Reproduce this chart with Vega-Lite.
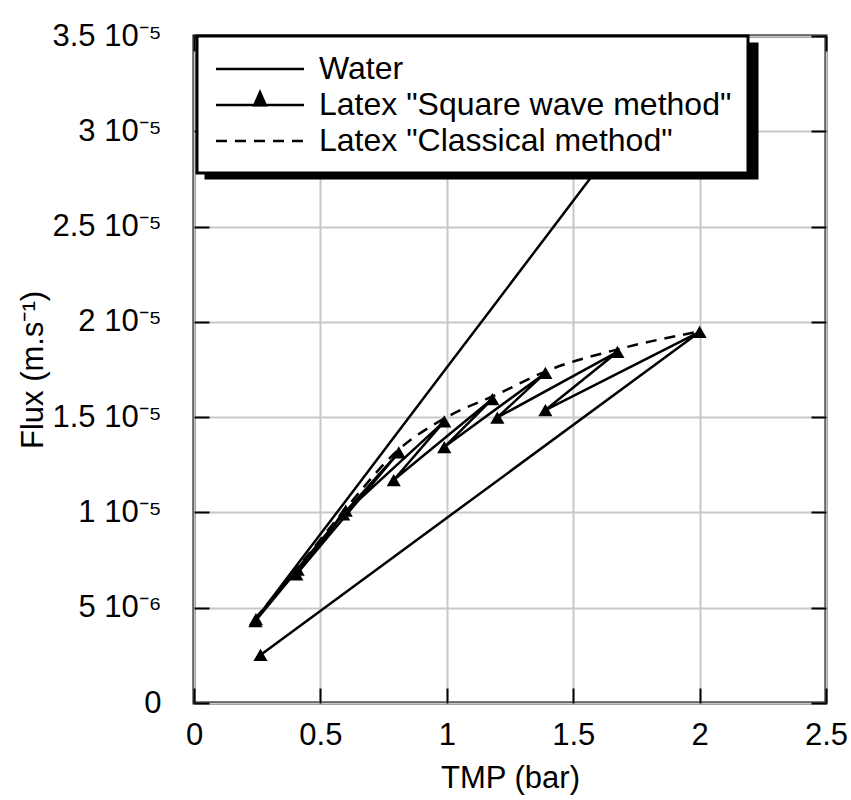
{
  "$schema": "https://vega.github.io/schema/vega-lite/v6.json",
  "width": 632,
  "height": 667,
  "autosize": {"type": "none"},
  "padding": {"left": 194, "top": 36, "right": 25, "bottom": 97},
  "background": "white",
  "config": {
    "view": {"stroke": "black", "strokeWidth": 3},
    "font": "Liberation Sans",
    "axis": {"labelFont": "Liberation Sans", "titleFont": "Liberation Sans", "labelColor": "black", "titleColor": "black", "titleFontWeight": "normal"},
    "legend": {
      "strokeWidth": 3,
      "padding": 16,
      "symbolSize": 961,
      "symbolStrokeWidth": 2.5,
      "symbolOffset": 30,
      "labelOffset": 42,
      "labelFont": "Liberation Sans",
      "labelFontSize": 32,
      "labelLimit": 0,
      "rowPadding": 3
    }
  },
  "data": {
    "values": [
      {"series": "Water", "order": 1, "x": 0.24, "y": 0.0000043},
      {"series": "Water", "order": 2, "x": 0.41, "y": 0.0000073},
      {"series": "Water", "order": 3, "x": 0.6, "y": 0.0000106},
      {"series": "Water", "order": 4, "x": 0.8, "y": 0.0000141},
      {"series": "Water", "order": 5, "x": 1.0, "y": 0.0000176},
      {"series": "Water", "order": 6, "x": 1.2, "y": 0.0000211},
      {"series": "Water", "order": 7, "x": 1.4, "y": 0.0000246},
      {"series": "Water", "order": 8, "x": 1.68, "y": 0.0000295},
      {"series": "Water", "order": 9, "x": 2.0, "y": 0.0000349},
      {"series": "Latex \"Square wave method\"", "order": 1, "x": 0.243, "y": 0.0000043},
      {"series": "Latex \"Square wave method\"", "order": 2, "x": 0.41, "y": 0.0000070},
      {"series": "Latex \"Square wave method\"", "order": 3, "x": 0.245, "y": 0.0000044},
      {"series": "Latex \"Square wave method\"", "order": 4, "x": 0.6, "y": 0.0000101},
      {"series": "Latex \"Square wave method\"", "order": 5, "x": 0.405, "y": 0.00000675},
      {"series": "Latex \"Square wave method\"", "order": 6, "x": 0.81, "y": 0.00001315},
      {"series": "Latex \"Square wave method\"", "order": 7, "x": 0.59, "y": 0.0000099},
      {"series": "Latex \"Square wave method\"", "order": 8, "x": 0.99, "y": 0.00001478},
      {"series": "Latex \"Square wave method\"", "order": 9, "x": 0.79, "y": 0.0000117},
      {"series": "Latex \"Square wave method\"", "order": 10, "x": 1.18, "y": 0.00001595},
      {"series": "Latex \"Square wave method\"", "order": 11, "x": 0.99, "y": 0.00001343},
      {"series": "Latex \"Square wave method\"", "order": 12, "x": 1.39, "y": 0.00001732},
      {"series": "Latex \"Square wave method\"", "order": 13, "x": 1.2, "y": 0.00001498},
      {"series": "Latex \"Square wave method\"", "order": 14, "x": 1.675, "y": 0.00001842},
      {"series": "Latex \"Square wave method\"", "order": 15, "x": 1.39, "y": 0.00001537},
      {"series": "Latex \"Square wave method\"", "order": 16, "x": 2.0, "y": 0.00001947},
      {"series": "Latex \"Square wave method\"", "order": 17, "x": 0.263, "y": 0.00000252},
      {"series": "Latex \"Classical method\"", "order": 1, "x": 0.24, "y": 0.0000044},
      {"series": "Latex \"Classical method\"", "order": 2, "x": 0.41, "y": 0.0000071},
      {"series": "Latex \"Classical method\"", "order": 3, "x": 0.6, "y": 0.0000102},
      {"series": "Latex \"Classical method\"", "order": 4, "x": 0.81, "y": 0.0000133},
      {"series": "Latex \"Classical method\"", "order": 5, "x": 1.0, "y": 0.000015},
      {"series": "Latex \"Classical method\"", "order": 6, "x": 1.2, "y": 0.0000162},
      {"series": "Latex \"Classical method\"", "order": 7, "x": 1.4, "y": 0.00001745},
      {"series": "Latex \"Classical method\"", "order": 8, "x": 1.68, "y": 0.00001857},
      {"series": "Latex \"Classical method\"", "order": 9, "x": 2.0, "y": 0.0000195}
    ]
  },
  "resolve": {"axis": {"x": "independent", "y": "independent"}},
  "layer": [
    {
      "transform": [{"filter": "datum.series == 'Water'"}],
      "mark": {"type": "line", "color": "black", "strokeWidth": 2.5},
      "encoding": {
        "x": {"field": "x", "type": "quantitative", "scale": {"domain": [0, 2.5], "nice": false, "zero": false},
          "axis": {"orient": "bottom", "values": [0, 0.5, 1, 1.5, 2, 2.5], "format": "~g", "grid": true, "gridColor": "#c8c8c8", "gridWidth": 2, "domain": false, "ticks": false, "labelFontSize": 31, "labelPadding": 17, "labelFlush": false, "labelOverlap": false, "title": "TMP (bar)", "titleFontSize": 31, "titlePadding": 13}},
        "y": {"field": "y", "type": "quantitative", "scale": {"domain": [0, 0.000035], "nice": false, "zero": false},
          "axis": {"orient": "left", "values": [0, 0.000005, 0.00001, 0.000015, 0.00002, 0.000025, 0.00003, 0.000035], "grid": true, "gridColor": "#c8c8c8", "gridWidth": 2, "domain": false, "ticks": false, "labelFontSize": 31, "labelPadding": 33, "labelFlush": false, "labelOverlap": false, "labelExpr": "datum.value == 0 ? '0' : round(datum.value*1e6) == 5 ? '5 10⁻⁶' : (round(datum.value*1e6)/10) + ' 10⁻⁵'", "title": "Flux (m.s⁻¹)", "titleFontSize": 31, "titlePadding": 2}},
        "order": {"field": "order", "type": "quantitative"}
      }
    },
    {
      "transform": [{"filter": "datum.series == 'Latex \"Square wave method\"'"}],
      "mark": {"type": "line", "color": "black", "strokeWidth": 2.5},
      "encoding": {
        "x": {"field": "x", "type": "quantitative", "axis": {"orient": "top", "values": [0, 0.5, 1, 1.5, 2, 2.5], "grid": false, "domain": false, "labels": false, "ticks": true, "tickSize": -15, "tickWidth": 2, "tickColor": "black", "title": null}},
        "y": {"field": "y", "type": "quantitative", "axis": {"orient": "right", "values": [0, 0.000005, 0.00001, 0.000015, 0.00002, 0.000025, 0.00003, 0.000035], "grid": false, "domain": false, "labels": false, "ticks": true, "tickSize": -15, "tickWidth": 2, "tickColor": "black", "title": null}},
        "order": {"field": "order", "type": "quantitative"}
      }
    },
    {
      "transform": [{"filter": "datum.series == 'Latex \"Square wave method\"'"}],
      "mark": {"type": "point", "shape": "triangle-up", "filled": true, "color": "black", "size": 200, "opacity": 1},
      "encoding": {
        "x": {"field": "x", "type": "quantitative", "axis": {"orient": "bottom", "values": [0, 0.5, 1, 1.5, 2, 2.5], "grid": false, "domain": false, "labels": false, "ticks": true, "tickSize": -15, "tickWidth": 2, "tickColor": "black", "title": null}},
        "y": {"field": "y", "type": "quantitative", "axis": {"orient": "left", "values": [0, 0.000005, 0.00001, 0.000015, 0.00002, 0.000025, 0.00003, 0.000035], "grid": false, "domain": false, "labels": false, "ticks": true, "tickSize": -15, "tickWidth": 2, "tickColor": "black", "title": null}}
      }
    },
    {
      "transform": [{"filter": "datum.series == 'Latex \"Classical method\"'"}],
      "mark": {"type": "line", "color": "black", "strokeWidth": 2.5, "interpolate": "monotone"},
      "encoding": {
        "x": {"field": "x", "type": "quantitative", "axis": null},
        "y": {"field": "y", "type": "quantitative", "axis": null},
        "order": {"field": "order", "type": "quantitative"},
        "strokeDash": {"field": "series", "type": "nominal",
          "scale": {"domain": ["Water", "Latex \"Square wave method\"", "Latex \"Classical method\""], "range": [[1, 0], [1, 0], [11, 8]]},
          "legend": {"orient": "none", "legendX": 3, "legendY": 0, "title": null, "fillColor": "white", "strokeColor": "black", "symbolType": "M-2.84,0L2.84,0", "symbolStrokeColor": "black", "labelColor": "black", "zindex": 2}}
      }
    },
    {
      "transform": [{"filter": "datum.series == 'legend only'"}],
      "mark": {"type": "point", "filled": true, "color": "black", "opacity": 1},
      "encoding": {
        "x": {"field": "x", "type": "quantitative", "axis": null},
        "y": {"field": "y", "type": "quantitative", "axis": null},
        "shape": {"field": "marker", "type": "nominal",
          "scale": {"domain": ["t1", "t2", "t3"], "range": ["M0,0L0,0", "M-0.37,0.14L0,-0.7L0.37,0.14Z", "M0,0L0,0"]},
          "legend": {"orient": "none", "legendX": 3, "legendY": 0, "title": null, "fillColor": "transparent", "strokeColor": "transparent", "symbolFillColor": "black", "symbolStrokeColor": "black", "symbolOpacity": 1, "clipHeight": 32, "labelExpr": "''", "zindex": 3}},
        "color": {"field": "shadow", "type": "nominal",
          "scale": {"domain": ["a", "b", "c"], "range": ["black", "black", "black"]},
          "legend": {"orient": "none", "legendX": 12, "legendY": 8, "title": null, "fillColor": "black", "strokeColor": "black", "symbolType": "M-2.84,0L2.84,0", "symbolOpacity": 0, "symbolOffset": 443, "clipHeight": 32, "labelExpr": "''", "zindex": 1}}
      }
    }
  ]
}
